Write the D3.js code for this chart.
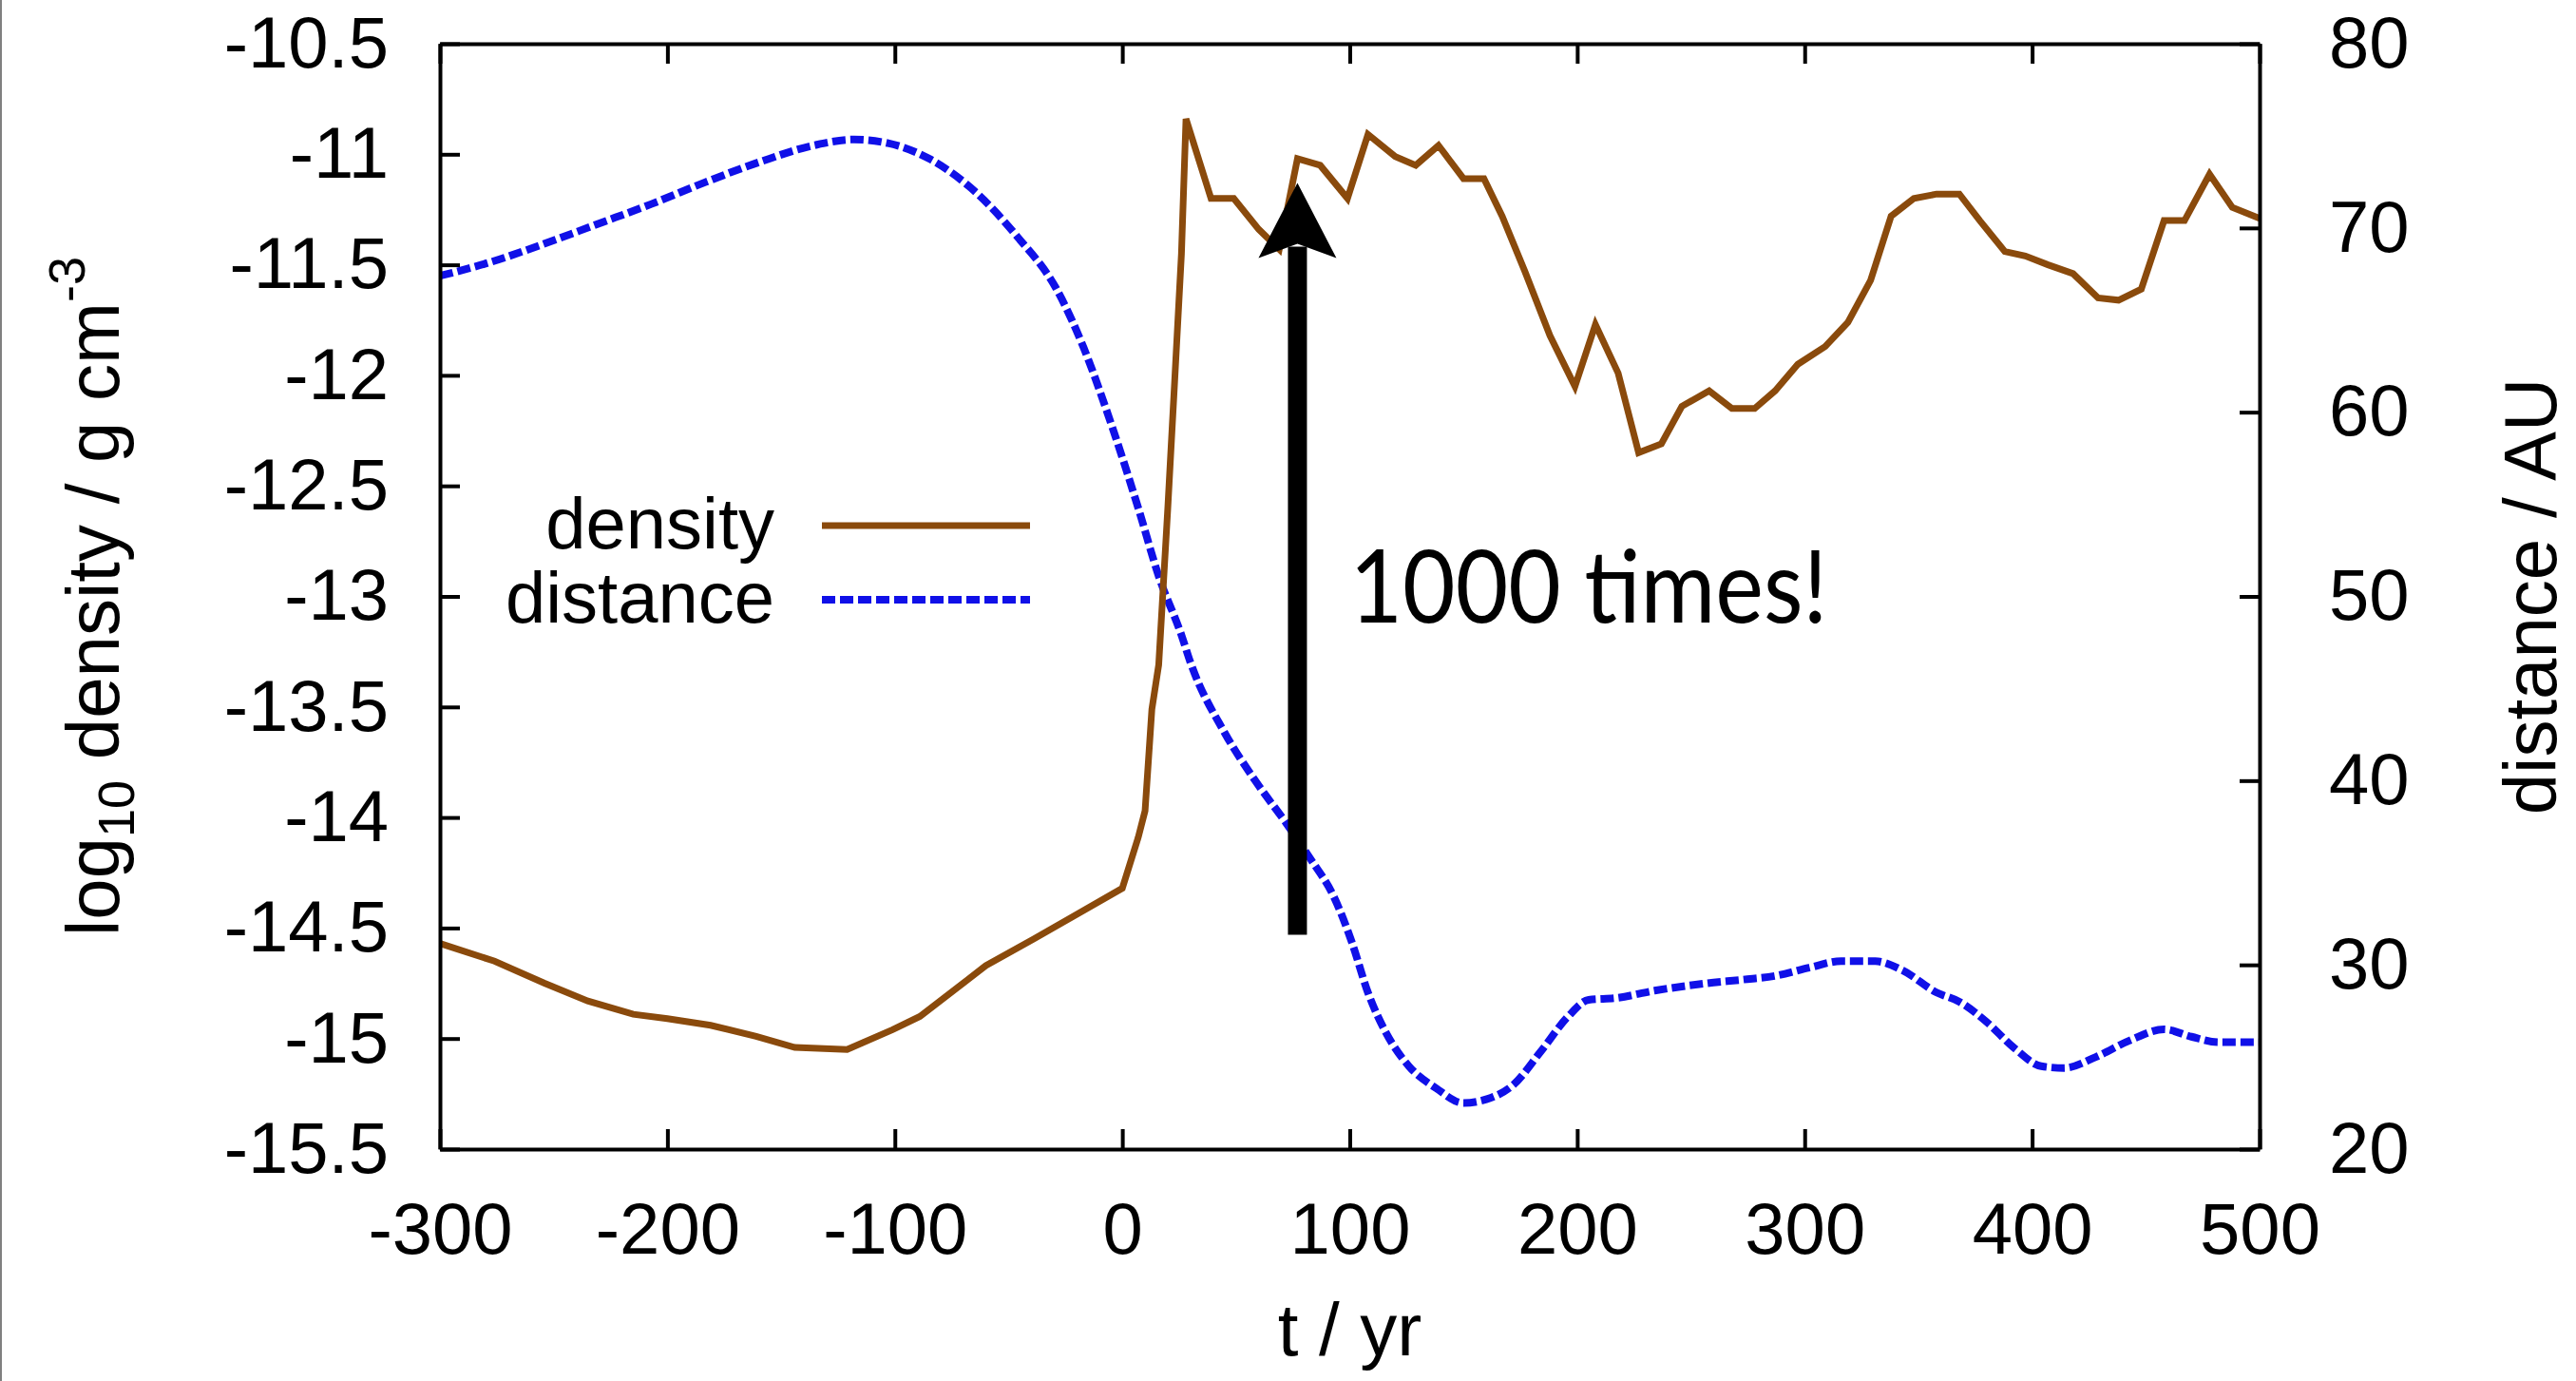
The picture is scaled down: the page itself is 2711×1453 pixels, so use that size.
<!DOCTYPE html>
<html>
<head>
<meta charset="utf-8">
<script src="https://cdn.jsdelivr.net/npm/d3@7"></script>
<style>
  body { margin: 0; background: #fff; }
  svg { display: block; }
  .tick text { font-family: "Liberation Sans", Arial, sans-serif; font-size: 76px; fill: #000; }
  .axis path, .axis line { stroke: #000; stroke-width: 4; }
</style>
</head>
<body>
<div id="chart"></div>
<script>
// Constants for the chart
const WIDTH = 2711;
const HEIGHT = 1453;
const PLOT = { left: 463, right: 2378, top: 46, bottom: 1209 };
const TICK = 21;

// density series (brown, left axis)
const T_DENSITY = [-300, -276, -254, -235, -215, -200, -181, -161, -144, -121,
  -101, -89, -70, -60, -39, -22, 0, 7, 10, 13, 16, 20, 23, 26, 28, 39, 49, 60, 69,
  77, 87, 99, 108, 120, 129, 139, 150, 159, 167, 177, 188, 199, 208, 218, 227, 237,
  246, 258, 268, 278, 287, 297, 309, 319, 329, 338, 348, 358, 368, 377, 388, 397,
  407, 418, 429, 438, 448, 458, 467, 478, 488, 500];
const DENSITY = [-14.57, -14.65, -14.75, -14.83, -14.89, -14.91, -14.94, -14.99, -15.04, -15.05,
  -14.96, -14.90, -14.75, -14.67, -14.55, -14.45, -14.32, -14.09, -13.97, -13.51, -13.31, -12.60,
  -12.03, -11.45, -10.84, -11.20, -11.20, -11.34, -11.43,
  -11.02, -11.05, -11.20, -10.91, -11.01, -11.05, -10.96, -11.11, -11.11, -11.28, -11.53, -11.82,
  -12.05, -11.77, -11.99, -12.35, -12.31,
  -12.14, -12.07, -12.15, -12.15, -12.07, -11.95, -11.87, -11.76, -11.57, -11.28, -11.20, -11.18,
  -11.18, -11.30, -11.44, -11.46,
  -11.50, -11.54, -11.65, -11.66, -11.61, -11.30, -11.30, -11.09, -11.24, -11.29];

// distance series (blue, right axis)
const T_DISTANCE = [-300, -279, -255, -231, -207, -183, -159, -135, -118, -103, -84, -65, -46,
  -29, -17, -5, 7, 16, 26, 30, 45, 59, 72, 83, 93, 101, 108, 116, 126, 138, 150, 160, 172, 184,
  196, 205, 217, 234, 257, 273, 287, 302, 316, 331, 343, 358, 368, 380, 392, 404, 414, 428, 443,
  458, 470, 482, 500];
const DISTANCE = [67.4, 68.1, 69.1, 70.2, 71.3, 72.5, 73.6, 74.5, 74.8, 74.6, 73.7, 72.0, 69.5,
  66.7, 63.5, 59.4, 54.8, 51.1, 47.9, 46.4, 42.6, 39.9, 37.7, 35.7, 33.7, 31.2, 28.5, 26.3, 24.5,
  23.3, 22.5, 22.7, 23.5, 25.3, 27.2, 28.1, 28.2, 28.6, 29.0, 29.2, 29.4, 29.85, 30.2, 30.2, 29.7,
  28.5, 28.0, 26.9, 25.5, 24.5, 24.4, 25.0, 25.9, 26.5, 26.1, 25.8, 25.8];

// tick values
const X_TICKS = [-300, -200, -100, 0, 100, 200, 300, 400, 500];
const Y_TICKS = [-15.5, -15, -14.5, -14, -13.5, -13, -12.5, -12, -11.5, -11, -10.5];
const Y2_TICKS = [20, 30, 40, 50, 60, 70, 80];

// annotation (in data units)
const ARROW = { t: 77, from: -14.53, to: -11.13 };
const NOTE = { t: 100, tEnd: 310, v: -13.12, text: '1000 times!' };

const BROWN = '#8a4a0c';
const BLUE = '#1010e8';

draw();

function draw () {
  const svg = d3.select('#chart')
    .append('svg')
    .attr('width', WIDTH)
    .attr('height', HEIGHT);

  svg.append('rect').attr('width', WIDTH).attr('height', HEIGHT).attr('fill', '#fff');
  // thin grey edge on the left of the slide
  svg.append('line')
    .attr('x1', 1).attr('x2', 1).attr('y1', 0).attr('y2', HEIGHT)
    .attr('stroke', '#808080').attr('stroke-width', 2);

  const x = d3.scaleLinear().domain([-300, 500]).range([PLOT.left, PLOT.right]);
  const y = d3.scaleLinear().domain([-15.5, -10.5]).range([PLOT.bottom, PLOT.top]);
  const y2 = d3.scaleLinear().domain([20, 80]).range([PLOT.bottom, PLOT.top]);

  const densityData = T_DENSITY.map((t, i) => ({ t: t, v: DENSITY[i] }));
  const distanceData = T_DISTANCE.map((t, i) => ({ t: t, v: DISTANCE[i] }));

  // lines
  const densityLine = d3.line()
    .x(d => x(d.t))
    .y(d => y(d.v));
  const distanceLine = d3.line()
    .curve(d3.curveMonotoneX)
    .x(d => x(d.t))
    .y(d => y2(d.v));

  svg.append('path')
    .datum(distanceData)
    .attr('d', distanceLine)
    .attr('fill', 'none')
    .attr('stroke', BLUE)
    .attr('stroke-width', 8)
    .attr('stroke-dasharray', '14,5');

  svg.append('path')
    .datum(densityData)
    .attr('d', densityLine)
    .attr('fill', 'none')
    .attr('stroke', BROWN)
    .attr('stroke-width', 7)
    .attr('stroke-linejoin', 'miter');

  // axes
  const fmt = d => String(d);
  svg.append('g')
    .attr('class', 'axis')
    .attr('transform', `translate(0,${PLOT.bottom})`)
    .call(d3.axisBottom(x).tickValues(X_TICKS).tickFormat(fmt).tickSizeInner(-TICK).tickSizeOuter(0).tickPadding(56));
  svg.append('g')
    .attr('class', 'axis')
    .attr('transform', `translate(0,${PLOT.top})`)
    .call(d3.axisTop(x).tickValues(X_TICKS).tickFormat('').tickSizeInner(-TICK).tickSizeOuter(0));
  svg.append('g')
    .attr('class', 'axis')
    .attr('transform', `translate(${PLOT.left},0)`)
    .call(d3.axisLeft(y).tickValues(Y_TICKS).tickFormat(fmt).tickSizeInner(-TICK).tickSizeOuter(0).tickPadding(54));
  svg.append('g')
    .attr('class', 'axis')
    .attr('transform', `translate(${PLOT.right},0)`)
    .call(d3.axisRight(y2).tickValues(Y2_TICKS).tickFormat(fmt).tickSizeInner(-TICK).tickSizeOuter(0).tickPadding(73));

  // axis labels
  const label = svg.append('g')
    .attr('font-family', '"Liberation Sans", Arial, sans-serif')
    .attr('font-size', 78)
    .attr('fill', '#000');

  label.append('text')
    .attr('x', (PLOT.left + PLOT.right) / 2)
    .attr('y', 1426)
    .attr('text-anchor', 'middle')
    .text('t / yr');

  const ylab = label.append('text')
    .attr('transform', `translate(125,${(PLOT.top + PLOT.bottom) / 2}) rotate(-90)`)
    .attr('text-anchor', 'middle');
  ylab.append('tspan').text('log');
  ylab.append('tspan').attr('font-size', 54).attr('dy', 16).text('10');
  ylab.append('tspan').attr('dy', -16).text(' density / g cm');
  ylab.append('tspan').attr('font-size', 54).attr('dy', -36).text('-3');

  label.append('text')
    .attr('transform', `translate(2690,${(PLOT.top + PLOT.bottom) / 2}) rotate(-90)`)
    .attr('text-anchor', 'middle')
    .text('distance / AU');

  // legend
  const legend = svg.append('g')
    .attr('font-family', '"Liberation Sans", Arial, sans-serif')
    .attr('font-size', 76);
  const items = [
    { name: 'density', color: BROWN, width: 7, dash: null, y: 553 },
    { name: 'distance', color: BLUE, width: 8, dash: '14,5', y: 631 }
  ];
  items.forEach(it => {
    legend.append('text')
      .attr('x', 815)
      .attr('y', it.y + 24)
      .attr('text-anchor', 'end')
      .text(it.name);
    legend.append('line')
      .attr('x1', 865).attr('x2', 1084)
      .attr('y1', it.y).attr('y2', it.y)
      .attr('stroke', it.color)
      .attr('stroke-width', it.width)
      .attr('stroke-dasharray', it.dash);
  });

  // arrow annotation
  const ax = x(ARROW.t);
  const tipY = y(ARROW.to);
  const baseY = tipY + 79;
  svg.append('line')
    .attr('x1', ax).attr('x2', ax)
    .attr('y1', y(ARROW.from)).attr('y2', baseY - 12)
    .attr('stroke', '#000')
    .attr('stroke-width', 20);
  svg.append('path')
    .attr('d', `M${ax},${tipY} L${ax + 41},${baseY} L${ax},${baseY - 15} L${ax - 41},${baseY} Z`)
    .attr('fill', '#000');

  svg.append('text')
    .attr('x', x(NOTE.t))
    .attr('y', y(NOTE.v))
    .attr('font-family', 'Lato, "Open Sans", sans-serif')
    .attr('font-size', 106)
    .attr('textLength', x(NOTE.tEnd) - x(NOTE.t))
    .attr('lengthAdjust', 'spacingAndGlyphs')
    .attr('fill', '#000')
    .text(NOTE.text);
}
</script>
</body>
</html>
